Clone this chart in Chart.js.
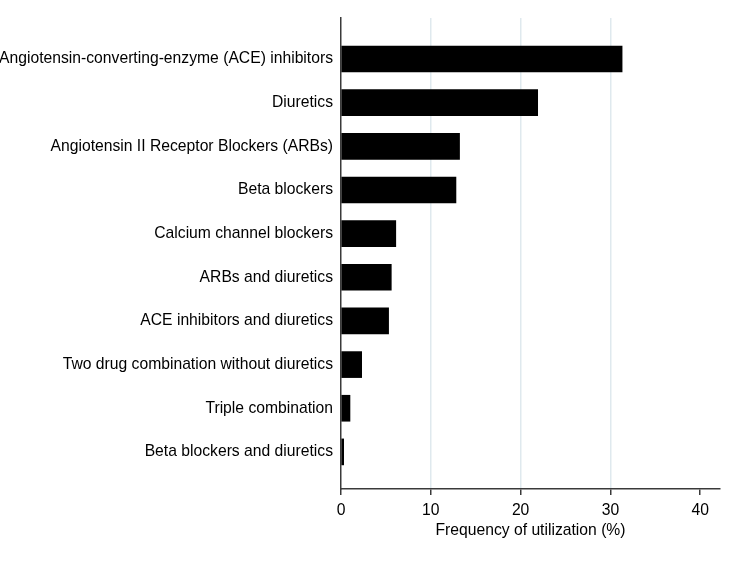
<!DOCTYPE html>
<html>
<head>
<meta charset="utf-8">
<script src="https://cdn.jsdelivr.net/npm/chart.js@4"></script>
<style>
  html, body { margin: 0; padding: 0; background: #fff; }
  #wrap { width: 740px; height: 565px; }
</style>
</head>
<body>
<div id="wrap"><canvas id="chart" width="740" height="565"></canvas></div>
<script>
// drug classes, top to bottom
const categories = [
  "Angiotensin-converting-enzyme (ACE) inhibitors",
  "Diuretics",
  "Angiotensin II Receptor Blockers (ARBs)",
  "Beta blockers",
  "Calcium channel blockers",
  "ARBs and diuretics",
  "ACE inhibitors and diuretics",
  "Two drug combination without diuretics",
  "Triple combination",
  "Beta blockers and diuretics"
];
const frequency = [31.3, 21.9, 13.2, 12.8, 6.1, 5.6, 5.3, 2.3, 1.0, 0.3];
const xTicks = [0, 10, 20, 30, 40];

const axisColor = "#3a3a3a";
const gridColor = "#dfe9ee";
const font = { family: "'Liberation Sans', Arial, sans-serif", size: 15.7 };

Chart.defaults.font = font;
Chart.defaults.color = "#000";

new Chart(document.getElementById("chart"), {
  type: "bar",
  data: {
    datasets: [{
      data: frequency.map((v, i) => ({ x: v, y: i })),
      backgroundColor: "#000",
      borderColor: "#000",
      borderWidth: 0,
      barThickness: 26
    }]
  },
  options: {
    indexAxis: "y",
    responsive: false,
    animation: false,
    layout: { padding: { top: 18, right: 20, left: 0, bottom: 25 } },
    plugins: { legend: { display: false }, tooltip: { enabled: false } },
    scales: {
      x: {
        type: "linear",
        min: 0,
        max: 42.2,
        afterFit: (s) => { s.height = 51; },
        afterBuildTicks: (s) => { s.ticks = xTicks.map((v) => ({ value: v })); },
        ticks: { padding: 6, font: font, color: "#000", maxRotation: 0 },
        grid: {
          drawOnChartArea: true,
          color: (ctx) => (ctx.tick && ctx.tick.value > 0 && ctx.tick.value < 40 ? gridColor : "rgba(0,0,0,0)"),
          lineWidth: 1.5,
          drawTicks: true,
          tickLength: 6,
          tickColor: axisColor
        },
        border: { display: true, color: axisColor, width: 1.5 },
        title: {
          display: true,
          text: "Frequency of utilization (%)",
          font: font,
          color: "#000",
          padding: { top: 0, bottom: 0 }
        }
      },
      y: {
        type: "linear",
        offset: false,
        reverse: true,
        min: -0.94,
        max: 9.85,
        afterFit: (s) => { s.width = 341; },
        afterBuildTicks: (s) => { s.ticks = categories.map((c, i) => ({ value: i })); },
        ticks: {
          padding: 8,
          font: font,
          color: "#000",
          callback: (v) => categories[Math.round(v)]
        },
        grid: { display: false, drawTicks: false },
        border: { display: true, color: axisColor, width: 1.5 }
      }
    }
  }
});
</script>
</body>
</html>
